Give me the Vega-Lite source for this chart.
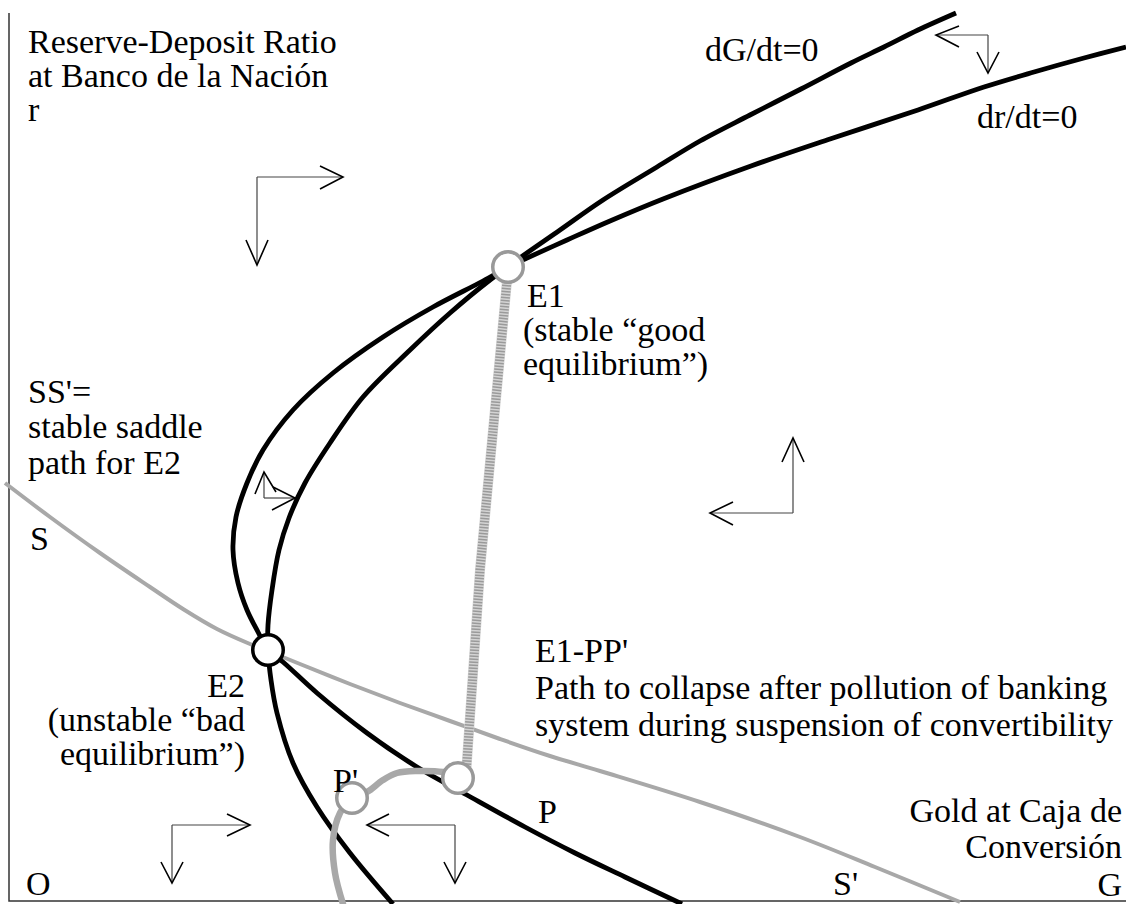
{
  "$schema": "https://vega.github.io/schema/vega-lite/v6.json",
  "width": 1126,
  "height": 904,
  "autosize": {"type": "none"},
  "padding": 0,
  "background": "white",
  "config": {"view": {"stroke": null}},
  "datasets": {
    "axes": [
      {"o": 1, "x": 9, "y": 13},
      {"o": 2, "x": 9, "y": 901},
      {"o": 3, "x": 1126, "y": 901}
    ],
    "saddle": [
      {"o": 1, "x": 5, "y": 483},
      {"o": 2, "x": 50, "y": 517},
      {"o": 3, "x": 100, "y": 553},
      {"o": 4, "x": 150, "y": 587},
      {"o": 5, "x": 183, "y": 609},
      {"o": 6, "x": 217, "y": 629},
      {"o": 7, "x": 250, "y": 644},
      {"o": 8, "x": 268, "y": 651},
      {"o": 9, "x": 300, "y": 664},
      {"o": 10, "x": 350, "y": 684},
      {"o": 11, "x": 400, "y": 703},
      {"o": 12, "x": 450, "y": 721},
      {"o": 13, "x": 500, "y": 739},
      {"o": 14, "x": 550, "y": 756},
      {"o": 15, "x": 600, "y": 771},
      {"o": 16, "x": 700, "y": 802},
      {"o": 17, "x": 800, "y": 837},
      {"o": 18, "x": 875, "y": 867},
      {"o": 19, "x": 960, "y": 902}
    ],
    "strip": [
      {"o": 1, "x": 508, "y": 270},
      {"o": 2, "x": 480, "y": 570},
      {"o": 3, "x": 466, "y": 775}
    ],
    "curves": [
      {"id": "dG", "o": 1, "x": 956, "y": 13},
      {"id": "dG", "o": 2, "x": 918, "y": 30},
      {"id": "dG", "o": 3, "x": 884, "y": 47},
      {"id": "dG", "o": 4, "x": 851, "y": 63},
      {"id": "dG", "o": 5, "x": 801, "y": 89},
      {"id": "dG", "o": 6, "x": 750, "y": 115},
      {"id": "dG", "o": 7, "x": 700, "y": 141},
      {"id": "dG", "o": 8, "x": 657, "y": 167},
      {"id": "dG", "o": 9, "x": 603, "y": 200},
      {"id": "dG", "o": 10, "x": 560, "y": 230},
      {"id": "dG", "o": 11, "x": 517, "y": 260},
      {"id": "dG", "o": 12, "x": 508, "y": 267},
      {"id": "dG", "o": 13, "x": 490, "y": 280},
      {"id": "dG", "o": 14, "x": 450, "y": 313},
      {"id": "dG", "o": 15, "x": 410, "y": 350},
      {"id": "dG", "o": 16, "x": 363, "y": 397},
      {"id": "dG", "o": 17, "x": 330, "y": 443},
      {"id": "dG", "o": 18, "x": 305, "y": 483},
      {"id": "dG", "o": 19, "x": 289, "y": 518},
      {"id": "dG", "o": 20, "x": 279, "y": 550},
      {"id": "dG", "o": 21, "x": 272, "y": 590},
      {"id": "dG", "o": 22, "x": 268, "y": 625},
      {"id": "dG", "o": 23, "x": 268, "y": 650},
      {"id": "dG", "o": 24, "x": 271, "y": 680},
      {"id": "dG", "o": 25, "x": 277, "y": 713},
      {"id": "dG", "o": 26, "x": 293, "y": 763},
      {"id": "dG", "o": 27, "x": 317, "y": 807},
      {"id": "dG", "o": 28, "x": 350, "y": 853},
      {"id": "dG", "o": 29, "x": 393, "y": 904},
      {"id": "dr", "o": 1, "x": 1126, "y": 47},
      {"id": "dr", "o": 2, "x": 1084, "y": 58},
      {"id": "dr", "o": 3, "x": 1034, "y": 72},
      {"id": "dr", "o": 4, "x": 984, "y": 87},
      {"id": "dr", "o": 5, "x": 918, "y": 110},
      {"id": "dr", "o": 6, "x": 830, "y": 139},
      {"id": "dr", "o": 7, "x": 751, "y": 166},
      {"id": "dr", "o": 8, "x": 663, "y": 199},
      {"id": "dr", "o": 9, "x": 610, "y": 221},
      {"id": "dr", "o": 10, "x": 567, "y": 240},
      {"id": "dr", "o": 11, "x": 527, "y": 258},
      {"id": "dr", "o": 12, "x": 508, "y": 267},
      {"id": "dr", "o": 13, "x": 483, "y": 281},
      {"id": "dr", "o": 14, "x": 433, "y": 307},
      {"id": "dr", "o": 15, "x": 383, "y": 337},
      {"id": "dr", "o": 16, "x": 333, "y": 373},
      {"id": "dr", "o": 17, "x": 293, "y": 410},
      {"id": "dr", "o": 18, "x": 263, "y": 450},
      {"id": "dr", "o": 19, "x": 247, "y": 483},
      {"id": "dr", "o": 20, "x": 236, "y": 517},
      {"id": "dr", "o": 21, "x": 233, "y": 550},
      {"id": "dr", "o": 22, "x": 238, "y": 583},
      {"id": "dr", "o": 23, "x": 247, "y": 610},
      {"id": "dr", "o": 24, "x": 258, "y": 632},
      {"id": "dr", "o": 25, "x": 268, "y": 650},
      {"id": "dr", "o": 26, "x": 283, "y": 662},
      {"id": "dr", "o": 27, "x": 317, "y": 693},
      {"id": "dr", "o": 28, "x": 367, "y": 733},
      {"id": "dr", "o": 29, "x": 417, "y": 767},
      {"id": "dr", "o": 30, "x": 467, "y": 795},
      {"id": "dr", "o": 31, "x": 525, "y": 827},
      {"id": "dr", "o": 32, "x": 575, "y": 853},
      {"id": "dr", "o": 33, "x": 625, "y": 877},
      {"id": "dr", "o": 34, "x": 682, "y": 904}
    ],
    "collapse": [
      {"o": 1, "x": 458, "y": 776},
      {"o": 2, "x": 443, "y": 772},
      {"o": 3, "x": 417, "y": 771},
      {"o": 4, "x": 397, "y": 773},
      {"o": 5, "x": 383, "y": 780},
      {"o": 6, "x": 367, "y": 792},
      {"o": 7, "x": 352, "y": 798},
      {"o": 8, "x": 340, "y": 813},
      {"o": 9, "x": 333, "y": 840},
      {"o": 10, "x": 335, "y": 873},
      {"o": 11, "x": 343, "y": 904}
    ],
    "arrows": [
      {"seg": "A1", "part": "stem", "o": 1, "x": 257, "y": 177},
      {"seg": "A1", "part": "stem", "o": 2, "x": 343, "y": 177},
      {"seg": "A2", "part": "head", "o": 1, "x": 320, "y": 166},
      {"seg": "A2", "part": "head", "o": 2, "x": 343, "y": 177},
      {"seg": "A2", "part": "head", "o": 3, "x": 320, "y": 189},
      {"seg": "A3", "part": "stem", "o": 1, "x": 257, "y": 177},
      {"seg": "A3", "part": "stem", "o": 2, "x": 257, "y": 265},
      {"seg": "A4", "part": "head", "o": 1, "x": 246, "y": 240},
      {"seg": "A4", "part": "head", "o": 2, "x": 257, "y": 265},
      {"seg": "A4", "part": "head", "o": 3, "x": 268, "y": 240},
      {"seg": "B1", "part": "stem", "o": 1, "x": 936, "y": 35},
      {"seg": "B1", "part": "stem", "o": 2, "x": 988, "y": 35},
      {"seg": "B2", "part": "head", "o": 1, "x": 959, "y": 26},
      {"seg": "B2", "part": "head", "o": 2, "x": 936, "y": 35},
      {"seg": "B2", "part": "head", "o": 3, "x": 959, "y": 47},
      {"seg": "B3", "part": "stem", "o": 1, "x": 988, "y": 35},
      {"seg": "B3", "part": "stem", "o": 2, "x": 988, "y": 73},
      {"seg": "B4", "part": "head", "o": 1, "x": 977, "y": 52},
      {"seg": "B4", "part": "head", "o": 2, "x": 988, "y": 73},
      {"seg": "B4", "part": "head", "o": 3, "x": 999, "y": 52},
      {"seg": "C1", "part": "stem", "o": 1, "x": 793, "y": 513},
      {"seg": "C1", "part": "stem", "o": 2, "x": 793, "y": 438},
      {"seg": "C2", "part": "head", "o": 1, "x": 782, "y": 462},
      {"seg": "C2", "part": "head", "o": 2, "x": 793, "y": 438},
      {"seg": "C2", "part": "head", "o": 3, "x": 804, "y": 462},
      {"seg": "C3", "part": "stem", "o": 1, "x": 793, "y": 513},
      {"seg": "C3", "part": "stem", "o": 2, "x": 710, "y": 513},
      {"seg": "C4", "part": "head", "o": 1, "x": 733, "y": 502},
      {"seg": "C4", "part": "head", "o": 2, "x": 710, "y": 513},
      {"seg": "C4", "part": "head", "o": 3, "x": 733, "y": 525},
      {"seg": "D1", "part": "stem", "o": 1, "x": 172, "y": 825},
      {"seg": "D1", "part": "stem", "o": 2, "x": 250, "y": 825},
      {"seg": "D2", "part": "head", "o": 1, "x": 227, "y": 814},
      {"seg": "D2", "part": "head", "o": 2, "x": 250, "y": 825},
      {"seg": "D2", "part": "head", "o": 3, "x": 227, "y": 836},
      {"seg": "D3", "part": "stem", "o": 1, "x": 172, "y": 825},
      {"seg": "D3", "part": "stem", "o": 2, "x": 172, "y": 883},
      {"seg": "D4", "part": "head", "o": 1, "x": 161, "y": 862},
      {"seg": "D4", "part": "head", "o": 2, "x": 172, "y": 883},
      {"seg": "D4", "part": "head", "o": 3, "x": 183, "y": 862},
      {"seg": "E1", "part": "stem", "o": 1, "x": 455, "y": 825},
      {"seg": "E1", "part": "stem", "o": 2, "x": 367, "y": 825},
      {"seg": "E2", "part": "head", "o": 1, "x": 389, "y": 814},
      {"seg": "E2", "part": "head", "o": 2, "x": 367, "y": 825},
      {"seg": "E2", "part": "head", "o": 3, "x": 389, "y": 836},
      {"seg": "E3", "part": "stem", "o": 1, "x": 455, "y": 825},
      {"seg": "E3", "part": "stem", "o": 2, "x": 455, "y": 883},
      {"seg": "E4", "part": "head", "o": 1, "x": 444, "y": 862},
      {"seg": "E4", "part": "head", "o": 2, "x": 455, "y": 883},
      {"seg": "E4", "part": "head", "o": 3, "x": 466, "y": 862},
      {"seg": "F1", "part": "stem", "o": 1, "x": 264, "y": 473},
      {"seg": "F1", "part": "stem", "o": 2, "x": 264, "y": 498},
      {"seg": "F2", "part": "head", "o": 1, "x": 255, "y": 494},
      {"seg": "F2", "part": "head", "o": 2, "x": 264, "y": 472},
      {"seg": "F2", "part": "head", "o": 3, "x": 276, "y": 492},
      {"seg": "F3", "part": "stem", "o": 1, "x": 264, "y": 498},
      {"seg": "F3", "part": "stem", "o": 2, "x": 295, "y": 498},
      {"seg": "F4", "part": "head", "o": 1, "x": 273, "y": 487},
      {"seg": "F4", "part": "head", "o": 2, "x": 295, "y": 498},
      {"seg": "F4", "part": "head", "o": 3, "x": 272, "y": 510}
    ],
    "points": [
      {"name": "E1", "ring": "gray", "x": 508, "y": 267},
      {"name": "E2", "ring": "black", "x": 268, "y": 650},
      {"name": "P", "ring": "gray", "x": 458, "y": 778},
      {"name": "P'", "ring": "gray", "x": 352, "y": 798}
    ],
    "labels": [
      {"text": "Reserve-Deposit Ratio", "align": "left", "x": 28, "y": 53},
      {"text": "at Banco de la Nación", "align": "left", "x": 28, "y": 87},
      {"text": "r", "align": "left", "x": 28, "y": 121},
      {"text": "dG/dt=0", "align": "left", "x": 705, "y": 61},
      {"text": "dr/dt=0", "align": "left", "x": 977, "y": 128},
      {"text": "E1", "align": "left", "x": 527, "y": 307},
      {"text": "(stable “good", "align": "left", "x": 523, "y": 341},
      {"text": "equilibrium”)", "align": "left", "x": 523, "y": 375},
      {"text": "SS'=", "align": "left", "x": 28, "y": 403},
      {"text": "stable saddle", "align": "left", "x": 28, "y": 438},
      {"text": "path for E2", "align": "left", "x": 28, "y": 474},
      {"text": "S", "align": "left", "x": 30, "y": 550},
      {"text": "E2", "align": "right", "x": 245, "y": 697},
      {"text": "(unstable “bad", "align": "right", "x": 245, "y": 731},
      {"text": "equilibrium”)", "align": "right", "x": 245, "y": 765},
      {"text": "P'", "align": "left", "x": 333, "y": 792},
      {"text": "P", "align": "left", "x": 538, "y": 823},
      {"text": "E1-PP'", "align": "left", "x": 535, "y": 662},
      {"text": "Path to collapse after pollution of banking", "align": "left", "x": 535, "y": 699},
      {"text": "system during suspension of convertibility", "align": "left", "x": 535, "y": 736},
      {"text": "Gold at Caja de", "align": "right", "x": 1122, "y": 822},
      {"text": "Conversión", "align": "right", "x": 1122, "y": 858},
      {"text": "G", "align": "right", "x": 1122, "y": 896},
      {"text": "O", "align": "left", "x": 26, "y": 895},
      {"text": "S'", "align": "left", "x": 833, "y": 895}
    ]
  },
  "encoding": {
    "x": {"field": "x", "type": "quantitative", "scale": {"domain": [0, 1126], "nice": false, "zero": false}, "axis": null},
    "y": {"field": "y", "type": "quantitative", "scale": {"domain": [0, 904], "nice": false, "zero": false, "reverse": true}, "axis": null}
  },
  "layer": [
    {
      "data": {"name": "axes"},
      "mark": {"type": "line", "color": "#333333", "strokeWidth": 1.5},
      "encoding": {"order": {"field": "o", "type": "quantitative"}}
    },
    {
      "data": {"name": "saddle"},
      "mark": {"type": "line", "color": "#a8a8a8", "strokeWidth": 4, "interpolate": "catmull-rom"},
      "encoding": {"order": {"field": "o", "type": "quantitative"}}
    },
    {
      "data": {"name": "strip"},
      "mark": {"type": "line", "color": "#d4d4d4", "strokeWidth": 10},
      "encoding": {"order": {"field": "o", "type": "quantitative"}}
    },
    {
      "data": {"name": "strip"},
      "mark": {"type": "line", "color": "#9a9a9a", "strokeWidth": 9, "strokeDash": [1.5, 1.5]},
      "encoding": {"order": {"field": "o", "type": "quantitative"}}
    },
    {
      "data": {"name": "curves"},
      "mark": {"type": "line", "color": "#000000", "strokeWidth": 4.8, "interpolate": "catmull-rom"},
      "encoding": {
        "detail": {"field": "id", "type": "nominal"},
        "order": {"field": "o", "type": "quantitative"}
      }
    },
    {
      "data": {"name": "collapse"},
      "mark": {"type": "line", "color": "#a8a8a8", "strokeWidth": 6.5, "interpolate": "catmull-rom", "strokeCap": "round"},
      "encoding": {"order": {"field": "o", "type": "quantitative"}}
    },
    {
      "data": {"name": "arrows"},
      "transform": [{"filter": "datum.part === 'stem'"}],
      "mark": {"type": "line", "color": "#444444", "strokeWidth": 1.2},
      "encoding": {
        "detail": {"field": "seg", "type": "nominal"},
        "order": {"field": "o", "type": "quantitative"}
      }
    },
    {
      "data": {"name": "arrows"},
      "transform": [{"filter": "datum.part === 'head'"}],
      "mark": {"type": "line", "color": "#000000", "strokeWidth": 1.6},
      "encoding": {
        "detail": {"field": "seg", "type": "nominal"},
        "order": {"field": "o", "type": "quantitative"}
      }
    },
    {
      "data": {"name": "points"},
      "mark": {"type": "point", "shape": "circle", "size": 930, "filled": false, "fill": "white", "fillOpacity": 1, "opacity": 1, "strokeWidth": 3.5},
      "encoding": {
        "stroke": {"field": "ring", "type": "nominal", "scale": {"domain": ["gray", "black"], "range": ["#999999", "#000000"]}, "legend": null}
      }
    },
    {
      "data": {"name": "labels"},
      "transform": [{"filter": "datum.align === 'left'"}],
      "mark": {"type": "text", "align": "left", "baseline": "alphabetic", "font": "Liberation Serif", "fontSize": 34, "color": "#000000"},
      "encoding": {"text": {"field": "text", "type": "nominal"}}
    },
    {
      "data": {"name": "labels"},
      "transform": [{"filter": "datum.align === 'right'"}],
      "mark": {"type": "text", "align": "right", "baseline": "alphabetic", "font": "Liberation Serif", "fontSize": 34, "color": "#000000"},
      "encoding": {"text": {"field": "text", "type": "nominal"}}
    }
  ]
}
